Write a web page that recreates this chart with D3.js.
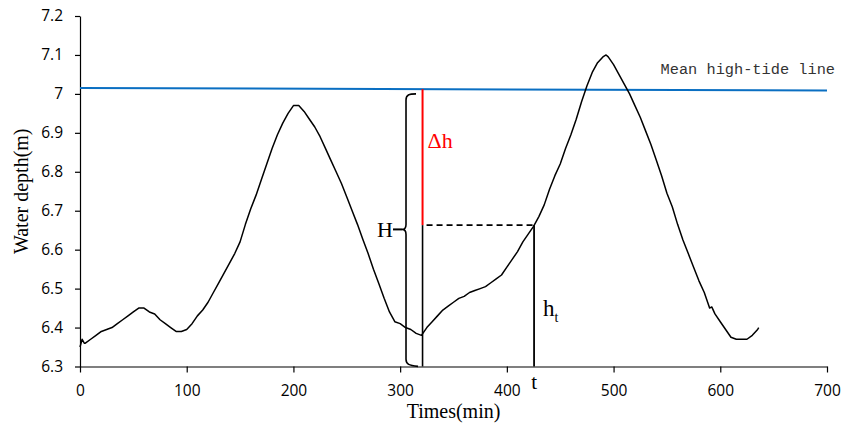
<!DOCTYPE html>
<html>
<head>
  <style>
    body { margin: 0; background: #fff; }
    .tick text { font-family: "Open Sans", sans-serif; font-size: 15.5px; fill: #000; }
    .axis path, .axis line { stroke: #000; stroke-width: 1.2; }
    .serif { font-family: "Liberation Serif", "Times New Roman", serif; }
  </style>
</head>
<body>
  <script src="https://d3js.org/d3.v7.min.js"></script>
  <script>
    // water depth record, minutes vs metres
    var times = [0, 2, 4, 5, 10, 15, 20, 25, 30, 35, 40, 45, 50, 55, 60, 65, 70, 75, 80, 85, 90, 95,
      100, 105, 110, 115, 120, 125, 130, 135, 140, 145, 150, 155, 160, 165, 170, 175, 180, 185, 190, 195,
      200, 205, 210, 215, 220, 225, 230, 235, 240, 245, 250, 255, 260, 265, 270, 275, 280, 285, 290, 295,
      300, 305, 310, 315, 320, 325, 330, 335, 340, 345, 350, 355, 360, 365, 370, 375, 380, 385, 390, 395,
      400, 405, 410, 415, 420, 425, 430, 435, 440, 445, 450, 455, 460, 465, 470, 475, 480, 485, 490, 493, 495,
      500, 505, 510, 515, 520, 525, 530, 535, 540, 545, 550, 555, 560, 565, 570, 575, 580, 585, 590, 592, 595,
      600, 605, 610, 615, 620, 625, 630, 635, 636];
    var depth = [6.35, 6.37, 6.36, 6.36, 6.37, 6.38, 6.39, 6.395, 6.40, 6.41, 6.42, 6.43, 6.44, 6.45, 6.45, 6.44, 6.435, 6.42, 6.41, 6.40, 6.39, 6.39,
      6.395, 6.41, 6.43, 6.445, 6.465, 6.49, 6.515, 6.54, 6.565, 6.59, 6.62, 6.665, 6.705, 6.74, 6.78, 6.82, 6.86, 6.895, 6.925, 6.95,
      6.97, 6.97, 6.955, 6.935, 6.915, 6.89, 6.86, 6.83, 6.80, 6.77, 6.735, 6.70, 6.665, 6.627, 6.59, 6.55, 6.513, 6.475, 6.44, 6.415,
      6.41, 6.40, 6.395, 6.385, 6.38, 6.40, 6.415, 6.43, 6.445, 6.455, 6.465, 6.475, 6.48, 6.49, 6.495, 6.50, 6.505, 6.515, 6.525, 6.535,
      6.555, 6.575, 6.595, 6.62, 6.64, 6.66, 6.685, 6.715, 6.755, 6.79, 6.82, 6.86, 6.895, 6.935, 6.98, 7.02, 7.055, 7.08, 7.095, 7.10, 7.095,
      7.075, 7.05, 7.025, 7.00, 6.97, 6.94, 6.905, 6.87, 6.83, 6.79, 6.745, 6.71, 6.665, 6.625, 6.59, 6.555, 6.52, 6.49, 6.45, 6.453, 6.435,
      6.415, 6.395, 6.375, 6.37, 6.37, 6.37, 6.38, 6.395, 6.40];

    var meanLineT = [0, 700];
    var meanLineV = [7.015, 7.009];

    var xTicks = [0, 100, 200, 300, 400, 500, 600, 700];
    var yTicks = [6.3, 6.4, 6.5, 6.6, 6.7, 6.8, 6.9, 7.0, 7.1, 7.2];

    // annotation positions in data units
    var deltaT = 321, tMark = 425.5, hLevel = 6.663;
    var braceT = 305.5, braceTop = 7.0, braceMid = 6.652, braceBot = 6.303;

    var W = 857, H = 427;
    var margin = {top: 16, right: 30, bottom: 60.5, left: 80};

    var svg = d3.select("body").append("svg")
        .attr("width", W)
        .attr("height", H);

    var x = d3.scaleLinear().domain([0, 700]).range([margin.left, W - margin.right]);
    var y = d3.scaleLinear().domain([6.3, 7.2]).range([H - margin.bottom, margin.top]);

    svg.append("g")
        .attr("class", "axis")
        .attr("transform", "translate(0," + y(6.3) + ")")
        .call(d3.axisBottom(x).tickValues(xTicks).tickSize(6).tickPadding(12).tickSizeOuter(0))
        .selectAll("text").attr("dy", "0.71em");

    svg.append("g")
        .attr("class", "axis")
        .attr("transform", "translate(" + x(0) + ",0)")
        .call(d3.axisLeft(y).tickValues(yTicks).tickSize(5).tickPadding(12).tickSizeOuter(0)
          .tickFormat(function(d){ return String(+d.toFixed(1)); }));

    // mean high-tide line
    svg.append("line")
        .attr("x1", x(meanLineT[0])).attr("y1", y(meanLineV[0]))
        .attr("x2", x(meanLineT[1])).attr("y2", y(meanLineV[1]))
        .attr("stroke", "#0a6fc2")
        .attr("stroke-width", 2);

    svg.append("text")
        .attr("x", x(700) + 8)
        .attr("y", y(7.05))
        .attr("text-anchor", "end")
        .attr("font-family", "Liberation Mono, monospace")
        .attr("font-size", 15.3)
        .attr("fill", "#333")
        .text("Mean high-tide line");

    // depth curve
    var pts = times.map(function(t, i){ return [t, depth[i]]; });
    var line = d3.line().x(function(d){ return x(d[0]); }).y(function(d){ return y(d[1]); });

    svg.append("path")
        .datum(pts)
        .attr("fill", "none")
        .attr("stroke", "#000")
        .attr("stroke-width", 1.5)
        .attr("stroke-linejoin", "round")
        .attr("d", line);

    // annotations
    var meanAt = function(t){ return meanLineV[0] + (meanLineV[1] - meanLineV[0]) * t / 700; };

    svg.append("line")
        .attr("x1", x(deltaT)).attr("x2", x(deltaT))
        .attr("y1", y(hLevel)).attr("y2", y(meanAt(deltaT)))
        .attr("stroke", "#ff0000").attr("stroke-width", 2);

    svg.append("line")
        .attr("x1", x(deltaT)).attr("x2", x(deltaT))
        .attr("y1", y(6.3)).attr("y2", y(hLevel))
        .attr("stroke", "#000").attr("stroke-width", 1.6);

    svg.append("line")
        .attr("x1", x(deltaT) + 4).attr("x2", x(tMark))
        .attr("y1", y(hLevel)).attr("y2", y(hLevel))
        .attr("stroke", "#000").attr("stroke-width", 1.6)
        .attr("stroke-dasharray", "6,4");

    svg.append("line")
        .attr("x1", x(tMark)).attr("x2", x(tMark))
        .attr("y1", y(6.3)).attr("y2", y(hLevel))
        .attr("stroke", "#000").attr("stroke-width", 1.8);

    // curly brace for H
    var bx = x(braceT), yt = y(braceTop), ym = y(braceMid), yb = y(braceBot);
    var brace = d3.path();
    brace.moveTo(bx + 10, yt);
    brace.bezierCurveTo(bx + 3, yt, bx, yt + 1, bx, yt + 6);
    brace.lineTo(bx, ym - 5);
    brace.bezierCurveTo(bx, ym - 1, bx - 2, ym, bx - 4, ym);
    brace.bezierCurveTo(bx - 2, ym, bx, ym + 1, bx, ym + 5);
    brace.lineTo(bx, yb - 6);
    brace.bezierCurveTo(bx, yb - 1, bx + 3, yb, bx + 12, yb + 1);
    svg.append("path")
        .attr("d", brace.toString())
        .attr("fill", "none")
        .attr("stroke", "#000")
        .attr("stroke-width", 1.6);

    svg.append("line")
        .attr("x1", bx - 13).attr("x2", bx - 4)
        .attr("y1", ym).attr("y2", ym)
        .attr("stroke", "#000").attr("stroke-width", 2);

    svg.append("text").attr("class", "serif")
        .attr("x", bx - 13).attr("y", ym + 8)
        .attr("text-anchor", "end")
        .attr("font-size", 22)
        .text("H");

    svg.append("text").attr("class", "serif")
        .attr("x", x(deltaT) + 5).attr("y", y(6.86))
        .attr("font-size", 22)
        .attr("fill", "#ff0000")
        .text("\u0394h");

    var ht = svg.append("text").attr("class", "serif")
        .attr("x", x(tMark) + 9).attr("y", y(6.43))
        .attr("font-size", 23);
    ht.append("tspan").text("h");
    ht.append("tspan").attr("font-size", 14).attr("dy", 6).text("t");

    svg.append("text").attr("class", "serif")
        .attr("x", x(tMark)).attr("y", y(6.3) + 22)
        .attr("text-anchor", "middle")
        .attr("font-size", 21)
        .text("t");

    // axis titles
    svg.append("text").attr("class", "serif")
        .attr("x", (x(0) + x(700)) / 2).attr("y", H - 9)
        .attr("text-anchor", "middle")
        .attr("font-size", 20)
        .text("Times(min)");

    svg.append("text").attr("class", "serif")
        .attr("transform", "translate(28," + (y(6.3) + y(7.2)) / 2 + ") rotate(-90)")
        .attr("text-anchor", "middle")
        .attr("font-size", 20)
        .text("Water depth(m)");
  </script>
</body>
</html>
